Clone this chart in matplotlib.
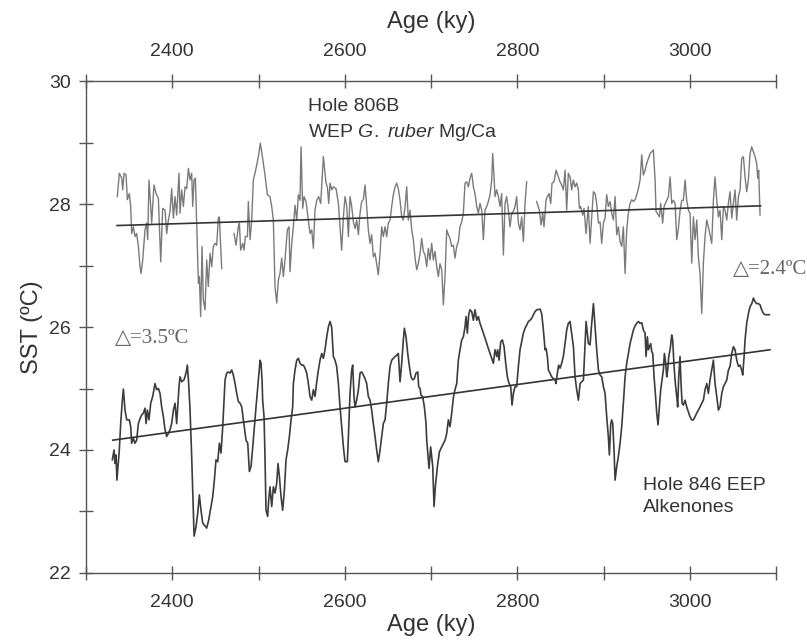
import matplotlib
matplotlib.use("Agg")
import matplotlib.pyplot as plt
import numpy as np
from matplotlib.ticker import FixedLocator

plt.rcParams['font.family'] = ['Liberation Sans', 'DejaVu Sans']
plt.rcParams['mathtext.fontset'] = 'custom'
plt.rcParams['mathtext.rm'] = 'Liberation Sans'
plt.rcParams['mathtext.it'] = 'Liberation Sans:italic'

# Hole 806B, WEP G. ruber Mg/Ca (nan = gap in record)
up_age = [2336.3, 2338.6, 2341.4, 2342.5, 2344.1, 2346.4, 2347.9, 2350.2, 2351.8, 2352.9,
          2354.9, 2356.8, 2358.7, 2360.7, 2362.6, 2363.8, 2365.7, 2368.4, 2370.3, 2371.5,
          2373.0, 2375.0, 2376.1, 2378.8, 2381.2, 2383.9, 2386.6, 2388.9, 2391.6, 2393.5,
          2395.5, 2397.4, 2399.3, 2401.3, 2403.2, 2405.1, 2407.8, 2409.0, 2410.9, 2412.9,
          2414.8, 2416.7, 2418.7, 2420.6, 2422.5, 2423.7, 2425.2, 2426.8, 2428.3, 2430.3,
          2431.4, 2432.9, 2434.5, 2436.0, 2438.0, 2439.9, 2441.8, 2443.8, 2445.7, 2447.6,
          2449.6, 2451.5, 2453.4, 2454.6, 2457.3, 2464.0,
          2471.6, 2473.9, 2476.6, 2477.8, 2479.3, 2481.7, 2483.2, 2484.7, 2487.1, 2488.2,
          2490.2, 2492.1, 2494.0, 2496.7, 2499.8, 2502.1, 2504.8, 2507.5, 2510.3, 2513.3,
          2515.3, 2517.2, 2519.1, 2521.1, 2523.0, 2524.9, 2526.9, 2528.8, 2530.7, 2533.4,
          2535.4, 2536.5, 2538.5, 2540.4, 2542.3, 2544.3, 2546.2, 2548.1, 2549.3, 2551.2,
          2552.8, 2555.1, 2557.8, 2559.7, 2561.7, 2563.6, 2565.5, 2567.5, 2569.8, 2572.1,
          2575.2, 2578.3, 2579.8, 2581.4, 2582.9, 2584.9, 2586.8, 2589.9, 2592.6,
          2594.5, 2596.4, 2598.4, 2600.3, 2602.2, 2604.2, 2606.1, 2608.0, 2610.0, 2611.9,
          2613.8, 2615.8, 2617.7, 2619.6, 2621.5, 2623.5, 2625.4, 2627.3, 2629.3, 2631.2,
          2633.1, 2635.1, 2637.0, 2638.9, 2640.9, 2642.8, 2644.7, 2646.7, 2648.6, 2650.5,
          2652.5, 2654.4, 2656.3, 2658.3, 2660.2, 2662.1, 2664.1, 2666.0, 2667.9, 2669.9,
          2671.8, 2673.7, 2675.7, 2677.6, 2679.5, 2681.5, 2683.4, 2685.3, 2687.3, 2689.2,
          2691.1, 2693.1, 2695.0, 2696.9, 2698.8, 2700.8, 2702.7, 2704.6, 2706.6, 2708.5,
          2710.4, 2712.4, 2714.3, 2716.2, 2718.2, 2720.1, 2722.0, 2724.0, 2725.9, 2727.8,
          2729.8, 2731.7, 2733.6, 2735.6, 2737.5, 2739.4, 2741.4, 2743.3, 2745.2, 2747.2,
          2749.1, 2751.0, 2753.0, 2754.9, 2756.8, 2758.8, 2760.7, 2762.6, 2764.6, 2766.5,
          2768.4, 2770.4, 2771.5, 2773.1, 2774.2, 2776.1, 2778.1, 2780.0, 2781.9, 2783.9,
          2785.8, 2787.7, 2789.7, 2791.6, 2793.5, 2795.5, 2797.4, 2799.3, 2801.3, 2803.2,
          2805.1, 2807.1, 2809.0, 2810.9, 2816.0,
          2822.5, 2825.6, 2827.6, 2829.5, 2831.0, 2833.4, 2834.9, 2836.8, 2838.8, 2840.3,
          2842.6, 2845.0, 2847.7, 2849.6, 2851.5, 2853.4, 2855.4, 2857.3, 2859.2, 2861.2,
          2863.1, 2865.0, 2867.0, 2868.9, 2870.8, 2872.0, 2873.5, 2875.9, 2877.4, 2879.7,
          2882.4, 2884.4, 2886.3, 2888.3, 2890.2, 2892.1, 2894.1, 2896.0, 2897.9, 2899.9,
          2901.8, 2903.7, 2905.6, 2907.6, 2909.5, 2911.4, 2913.4, 2915.3, 2917.2, 2919.2,
          2921.1, 2923.0, 2925.0, 2926.9, 2928.8, 2930.8, 2932.7, 2934.6, 2936.6, 2938.5,
          2940.4, 2942.4, 2944.3, 2946.2, 2948.2, 2950.1, 2954.0, 2957.8, 2959.8, 2960.9,
          2962.5, 2964.8, 2966.3, 2968.6, 2970.2, 2973.3, 2975.2, 2977.2, 2979.1, 2981.0,
          2983.0, 2984.9, 2986.8, 2988.8, 2990.7, 2992.6, 2994.6, 2996.5, 2998.4, 3000.3,
          3002.3, 3004.2, 3006.1, 3008.1, 3010.0, 3011.9, 3013.9, 3015.8, 3017.7, 3019.7,
          3021.6, 3023.5, 3025.5, 3027.4, 3029.3, 3031.3, 3033.2, 3035.1, 3037.1, 3039.0,
          3040.9, 3042.9, 3044.8, 3046.7, 3048.7, 3050.6, 3052.5, 3054.4, 3056.4, 3058.3,
          3060.2, 3062.2, 3064.1, 3066.0, 3068.0, 3069.9, 3071.8, 3073.8, 3075.7, 3077.6,
          3078.8, 3079.9, 3081.5]
up_sst = [28.12, 28.50, 28.42, 28.23, 28.50, 28.47, 28.07, 28.17, 27.96, 27.52,
          27.63, 27.47, 27.52, 27.31, 26.98, 26.87, 27.09, 27.58, 27.69, 27.42,
          28.39, 27.96, 27.69, 28.31, 28.17, 28.09, 27.06, 27.93, 27.90, 27.52,
          27.74, 27.88, 28.25, 27.77, 28.12, 27.82, 28.50, 27.85, 28.23, 27.96,
          28.28, 28.25, 28.58, 28.39, 28.50, 27.96, 28.39, 28.42, 27.69, 26.71,
          26.82, 26.17, 27.31, 26.44, 26.28, 27.09, 26.66, 27.20, 26.98, 27.31,
          27.36, 27.33, 27.77, 27.79, 26.95, np.nan,
          27.52, 27.33, 27.63, 27.69, 27.25, 27.36, 27.25, 27.47, 27.47, 28.04,
          27.42, 27.74, 28.39, 28.55, 28.77, 28.99, 28.74, 28.47, 28.15, 28.12,
          27.96, 27.74, 26.66, 26.39, 26.76, 26.87, 27.12, 26.82, 27.09, 27.58,
          27.63, 26.90, 27.36, 27.63, 27.98, 27.74, 28.15, 28.06, 28.93, 27.93,
          28.12, 28.04, 27.74, 27.52, 27.58, 27.28, 27.90, 28.06, 28.12, 28.01,
          28.77, 28.34, 28.28, 28.01, 28.34, 28.23, 28.28, 28.25, 28.01,
          27.63, 27.25, 27.79, 28.12, 27.98, 27.47, 28.12, 27.96, 27.71, 27.60,
          27.74, 27.50, 27.85, 28.04, 28.07, 28.31, 27.96, 27.58, 27.36, 27.50,
          27.14, 27.20, 27.03, 26.85, 27.20, 27.63, 27.47, 27.63, 27.47, 27.69,
          27.74, 27.96, 28.15, 28.28, 28.34, 28.25, 28.06, 27.79, 27.74, 27.96,
          28.28, 27.74, 27.90, 27.58, 27.42, 27.12, 26.93, 27.03, 27.20, 27.44,
          27.23, 27.17, 26.98, 27.28, 27.09, 27.36, 27.09, 27.23, 26.98, 26.82,
          27.03, 26.93, 26.36, 26.82, 27.58, 27.50, 27.44, 27.31, 27.33, 27.12,
          27.31, 27.39, 27.63, 27.71, 27.85, 28.34, 28.36, 28.28, 28.42, 28.50,
          28.28, 28.17, 27.96, 27.85, 28.01, 27.90, 27.42, 27.90, 27.96, 28.04,
          28.15, 28.39, 28.82, 28.44, 28.12, 28.23, 28.12, 27.96, 28.17, 27.17,
          28.01, 28.12, 27.90, 27.63, 27.85, 27.88, 27.96, 28.12, 27.69, 27.58,
          27.79, 27.39, 28.01, 28.36, np.nan,
          28.04, 27.90, 27.66, 27.85, 27.63, 28.07, 28.12, 28.17, 28.01, 28.34,
          28.36, 28.55, 28.44, 28.36, 28.31, 28.23, 28.55, 27.90, 28.50, 28.44,
          28.23, 28.39, 28.28, 28.34, 28.23, 27.93, 27.96, 27.82, 27.93, 27.52,
          27.96, 27.36, 27.79, 28.20, 28.17, 28.01, 27.69, 27.71, 27.36, 27.69,
          27.77, 28.15, 27.96, 28.04, 27.85, 27.74, 28.12, 27.50, 27.63, 27.39,
          27.31, 27.63, 26.87, 27.58, 27.85, 28.01, 28.07, 28.04, 28.07, 28.15,
          28.25, 28.39, 28.80, 28.47, 28.55, 28.66, 28.82, 28.88, 28.39, 27.88,
          27.85, 27.79, 28.01, 27.69, 27.96, 28.06, 28.12, 28.44, 28.01, 28.06,
          28.01, 27.42, 27.60, 27.90, 28.06, 28.06, 28.39, 28.06, 27.90, 27.85,
          27.04, 27.79, 27.42, 27.74, 27.14, 26.87, 26.22, 27.04, 27.47, 27.74,
          27.63, 27.50, 27.36, 28.06, 28.44, 28.06, 27.79, 27.90, 27.42, 27.96,
          27.90, 27.74, 28.01, 28.20, 27.77, 28.01, 28.23, 27.74, 28.12, 28.23,
          28.74, 28.77, 28.44, 28.20, 28.39, 28.82, 28.93, 28.85, 28.77, 28.66,
          28.42, 28.55, 27.82]

# Hole 846, EEP alkenones
lo_age = [2330.5, 2332.5, 2333.6, 2334.8, 2335.8, 2338.6, 2340.2, 2342.1, 2343.3, 2345.2,
          2347.2, 2350.2, 2351.8, 2352.9, 2354.9, 2356.8, 2358.7, 2360.7, 2362.6, 2364.5,
          2366.5, 2368.4, 2369.6, 2371.1, 2373.0, 2375.0, 2377.3, 2380.0, 2381.9, 2383.9,
          2385.8, 2387.7, 2389.7, 2391.6, 2393.5, 2395.5, 2397.4, 2399.3, 2401.3, 2403.2,
          2405.1, 2406.3, 2407.8, 2409.0, 2410.9, 2413.6, 2415.9, 2417.5, 2419.0, 2420.6,
          2422.5, 2425.3, 2427.5, 2429.5, 2431.4, 2433.3, 2435.3, 2437.2, 2439.9, 2442.2,
          2444.9, 2446.9, 2448.8, 2450.7, 2452.7, 2454.6, 2456.5, 2458.5, 2459.6, 2461.2,
          2463.1, 2465.0, 2467.0, 2468.9, 2470.8, 2472.8, 2474.7, 2476.6, 2478.6, 2480.5,
          2482.4, 2485.5, 2487.5, 2489.4, 2491.3, 2493.3, 2495.2, 2497.1, 2499.8, 2501.8,
          2502.9, 2504.1, 2504.8, 2506.4, 2507.5, 2508.7, 2510.6, 2511.8, 2513.3, 2515.3,
          2517.2, 2519.1, 2521.1, 2522.6, 2524.2, 2526.1, 2528.0, 2530.0, 2531.9, 2533.8,
          2535.8, 2537.7, 2539.6, 2540.4, 2542.3, 2544.3, 2546.2, 2548.1, 2550.1, 2552.0,
          2553.9, 2555.9, 2557.8, 2559.7, 2561.7, 2563.6, 2565.5, 2567.5, 2569.4, 2571.3,
          2573.3, 2575.2, 2577.1, 2579.1, 2581.0, 2582.9, 2584.8, 2586.8, 2588.7, 2590.6,
          2592.6, 2594.5, 2596.4, 2598.4, 2600.3, 2603.0, 2604.2, 2606.1, 2608.0, 2609.2,
          2610.7, 2611.9, 2613.8, 2615.8, 2617.7, 2619.6, 2621.5, 2623.5, 2625.4, 2627.3,
          2629.3, 2631.2, 2633.1, 2635.1, 2637.0, 2638.9, 2640.9, 2642.8, 2644.7, 2646.7,
          2648.6, 2650.5, 2652.5, 2654.4, 2656.3, 2658.3, 2660.2, 2662.1, 2664.1, 2666.0,
          2667.9, 2669.1, 2671.0, 2673.0, 2674.9, 2676.8, 2678.8, 2680.7, 2682.6, 2684.6,
          2685.7, 2687.3, 2688.4, 2690.3, 2692.3, 2694.2, 2695.0, 2697.7, 2699.6, 2702.0,
          2703.5, 2705.0, 2707.4, 2709.7, 2712.4, 2716.3, 2718.2, 2720.1, 2722.0, 2724.0,
          2725.9, 2727.8, 2729.8, 2731.7, 2733.6, 2735.6, 2737.5, 2739.4, 2740.6, 2742.1,
          2743.7, 2745.2, 2747.2, 2749.1, 2751.0, 2753.0, 2754.9, 2756.8, 2758.8, 2760.7,
          2762.6, 2764.6, 2766.5, 2768.4, 2770.4, 2772.3, 2774.2, 2776.2, 2777.3, 2778.9,
          2780.8, 2782.7, 2784.7, 2786.6, 2788.5, 2790.5, 2792.4, 2793.9, 2795.5, 2797.4,
          2799.3, 2801.3, 2803.2, 2805.1, 2807.1, 2809.0, 2810.9, 2812.9, 2814.8, 2816.7,
          2818.7, 2820.6, 2822.5, 2826.4, 2828.3, 2830.3, 2832.2, 2833.4, 2834.9, 2836.1,
          2838.0, 2839.9, 2841.9, 2843.8, 2844.9, 2846.5, 2848.0, 2849.6, 2851.5, 2853.4,
          2855.4, 2857.3, 2859.2, 2861.2, 2865.1, 2867.0, 2868.9, 2870.9, 2872.8, 2874.7,
          2876.7, 2879.8, 2882.5, 2884.4, 2886.3, 2888.3, 2890.2, 2892.1, 2894.1, 2896.0,
          2897.9, 2899.9, 2901.8, 2903.7, 2905.6, 2906.8, 2908.4, 2909.5, 2910.7, 2912.2,
          2913.4, 2915.3, 2917.2, 2919.2, 2921.1, 2923.0, 2925.0, 2926.9, 2928.8, 2930.8,
          2932.7, 2934.6, 2936.6, 2938.5, 2940.4, 2942.4, 2944.3, 2946.2, 2948.2, 2949.3,
          2950.9, 2952.0, 2953.2, 2954.7, 2955.9, 2957.1, 2958.6, 2960.1, 2961.7, 2963.2,
          2964.8, 2966.3, 2967.9, 2969.4, 2970.6, 2972.1, 2973.3, 2974.4, 2975.6, 2977.2,
          2979.1, 2980.2, 2981.8, 2983.3, 2984.9, 2986.0, 2987.2, 2988.7, 2989.9, 2991.1,
          2992.6, 2994.5, 2996.5, 2998.4, 3000.3, 3002.3, 3004.2, 3006.1, 3008.1, 3010.0,
          3011.9, 3013.9, 3015.8, 3017.7, 3019.7, 3021.6, 3023.5, 3025.5, 3027.4, 3029.3,
          3031.3, 3033.2, 3035.1, 3037.1, 3039.0, 3040.9, 3042.9, 3044.8, 3046.7, 3048.7,
          3050.6, 3052.5, 3054.5, 3056.4, 3058.3, 3060.2, 3061.4, 3063.0, 3064.1, 3066.0,
          3068.0, 3069.9, 3071.9, 3073.8, 3075.7, 3077.6, 3079.6, 3081.5, 3083.4, 3085.4,
          3087.3, 3092.3]
lo_sst = [23.84, 24.00, 23.78, 23.92, 23.51, 24.00, 24.43, 24.81, 24.99, 24.65,
          24.49, 24.49, 24.38, 24.11, 24.19, 24.11, 24.16, 24.43, 24.51, 24.57,
          24.60, 24.68, 24.43, 24.65, 24.49, 24.76, 24.87, 25.08, 24.98, 25.00,
          24.92, 24.70, 24.54, 24.33, 24.22, 24.27, 24.33, 24.43, 24.65, 24.76,
          24.43, 24.70, 25.03, 25.19, 25.11, 25.14, 25.25, 25.38, 25.08, 24.65,
          23.89, 22.60, 22.75, 22.97, 23.27, 23.02, 22.81, 22.78, 22.73, 22.86,
          23.08, 23.24, 23.51, 23.84, 23.81, 24.11, 23.95, 24.38, 24.70, 25.14,
          25.25, 25.27, 25.25, 25.30, 25.22, 25.08, 24.92, 24.79, 24.76, 24.70,
          24.49, 24.16, 24.11, 23.65, 23.73, 24.05, 24.38, 24.70, 25.14, 25.46,
          25.41, 25.14, 24.81, 24.54, 23.89, 23.02, 22.92, 23.19, 23.40, 23.08,
          23.40, 23.30, 23.46, 23.78, 23.57, 23.24, 23.02, 23.35, 23.84, 24.00,
          24.22, 24.49, 24.70, 25.08, 25.30, 25.46, 25.49, 25.41, 25.38, 25.38,
          25.33, 25.25, 25.08, 24.87, 24.81, 24.98, 24.87, 25.11, 25.30, 25.46,
          25.57, 25.49, 25.63, 25.84, 26.00, 26.09, 26.00, 25.52, 25.46, 25.36,
          25.08, 24.70, 24.38, 24.05, 23.81, 23.81, 24.22, 24.92, 25.30, 25.38,
          24.87, 24.70, 24.81, 24.98, 25.25, 25.27, 25.22, 25.16, 25.08, 24.87,
          24.81, 24.65, 24.43, 24.22, 24.00, 23.81, 24.00, 24.22, 24.43, 24.49,
          24.76, 25.08, 25.36, 25.46, 25.49, 25.52, 25.54, 25.57, 25.11, 25.41,
          25.79, 25.98, 25.84, 25.57, 25.36, 25.19, 25.14, 25.16, 25.25, 25.27,
          25.03, 25.00, 24.89, 24.87, 24.70, 24.43, 24.16, 23.70, 24.05, 23.73,
          23.08, 23.40, 23.73, 23.97, 24.05, 24.16, 24.27, 24.49, 24.38, 24.60,
          24.85, 24.98, 25.08, 25.46, 25.63, 25.79, 25.84, 26.00, 26.17, 25.90,
          26.20, 26.28, 26.25, 26.11, 26.28, 26.11, 26.17, 26.06, 25.98, 25.90,
          25.82, 25.73, 25.65, 25.57, 25.49, 25.41, 25.63, 25.52, 25.63, 25.46,
          25.76, 25.79, 25.68, 25.41, 25.19, 25.08, 25.03, 24.73, 24.92, 25.03,
          25.03, 25.36, 25.63, 25.76, 25.90, 25.98, 26.03, 26.09, 26.11, 26.14,
          26.20, 26.25, 26.28, 26.29, 26.22, 25.95, 25.63, 25.65, 25.52, 25.30,
          25.25, 25.19, 25.16, 25.14, 25.08, 25.25, 25.38, 25.33, 25.41, 25.52,
          25.73, 25.95, 26.06, 26.09, 25.68, 25.19, 24.98, 24.81, 25.08, 25.11,
          25.14, 26.09, 25.73, 25.71, 26.06, 26.38, 26.00, 25.63, 25.30, 25.22,
          25.19, 25.03, 24.92, 24.54, 24.22, 23.92, 24.43, 24.49, 24.43, 24.00,
          23.51, 23.73, 23.89, 24.11, 24.38, 24.76, 25.19, 25.41, 25.57, 25.73,
          25.84, 25.95, 26.02, 26.06, 26.09, 26.06, 26.07, 25.95, 25.90, 25.52,
          25.84, 25.63, 25.68, 25.73, 25.60, 25.57, 25.19, 24.92, 24.60, 24.41,
          24.70, 24.98, 25.14, 25.30, 25.57, 25.41, 25.19, 25.30, 25.52, 25.63,
          25.87, 25.79, 25.36, 25.08, 24.87, 24.70, 25.19, 25.52, 25.08, 24.76,
          24.73, 24.81, 24.70, 24.62, 24.54, 24.49, 24.49, 24.54, 24.60, 24.65,
          24.70, 24.76, 24.81, 24.98, 25.08, 24.92, 25.14, 25.30, 25.46, 25.08,
          24.87, 24.65, 24.70, 24.92, 25.03, 25.08, 25.14, 25.30, 25.36, 25.57,
          25.68, 25.63, 25.46, 25.36, 25.38, 25.30, 25.22, 25.52, 25.79, 26.06,
          26.22, 26.33, 26.38, 26.47, 26.41, 26.38, 26.38, 26.36, 26.28, 26.22,
          26.20, 26.20]

# linear trends
up_trend_age = [2336, 3082]
up_trend_sst = [27.65, 27.97]
lo_trend_age = [2331, 3093]
lo_trend_sst = [24.16, 25.63]

fig = plt.figure(figsize=(8.07, 6.41), dpi=100)
ax = fig.add_axes([0.1066, 0.1061, 0.855, 0.7675])

ax.plot(up_age, up_sst, color='#7a7a7a', lw=1.0)
ax.plot(lo_age, lo_sst, color='#3c3c3c', lw=1.2)
ax.plot(up_trend_age, up_trend_sst, color='#333333', lw=1.2)
ax.plot(lo_trend_age, lo_trend_sst, color='#333333', lw=1.2)

ax.set_xlim(2300, 3100)
ax.set_ylim(22, 30)
ax.spines['right'].set_visible(False)
for s in ['left', 'bottom', 'top']:
    ax.spines[s].set_color('#555555')
    ax.spines[s].set_linewidth(1.0)

xmaj = [2400, 2600, 2800, 3000]
xmin = [2300, 2500, 2700, 2900, 3100]
ax.xaxis.set_major_locator(FixedLocator(xmaj))
ax.xaxis.set_minor_locator(FixedLocator(xmin))
ax.yaxis.set_major_locator(FixedLocator([22, 24, 26, 28, 30]))
ax.yaxis.set_minor_locator(FixedLocator([23, 25, 27, 29]))
ax.tick_params(which='both', direction='inout', length=10, width=1.0,
               color='#555555', labelcolor='#333333', labelsize=14)
ax.tick_params(axis='x', pad=10)
ax.tick_params(axis='y', pad=6)

sec = ax.secondary_xaxis('top')
sec.xaxis.set_major_locator(FixedLocator(xmaj))
sec.xaxis.set_minor_locator(FixedLocator(xmin))
sec.tick_params(which='both', direction='inout', length=10, width=1.0,
                color='#555555', labelcolor='#333333', labelsize=14, pad=10)
sec.spines['top'].set_visible(False)
sec.set_xlabel('Age (ky)', fontsize=17, color='#333333', labelpad=11)

ax.set_xlabel('Age (ky)', fontsize=17, color='#333333', labelpad=2)
ax.set_ylabel('SST (ºC)', fontsize=17, color='#333333', labelpad=4)

ax.text(2557, 29.58, 'Hole 806B', fontsize=14, color='#333333', va='center')
ax.text(2557, 29.17, r'WEP $\it{G.\ ruber}$ Mg/Ca', fontsize=14, color='#333333', va='center')
ax.text(2946, 23.43, 'Hole 846 EEP', fontsize=14, color='#333333', va='center')
ax.text(2946, 23.06, 'Alkenones', fontsize=14, color='#333333', va='center')

serif = ['Liberation Serif', 'DejaVu Serif']
ax.text(2334, 25.82, '△=3.5ºC', fontsize=15, family=serif, color='#666666', va='center')
ax.text(3050, 26.93, '△=2.4ºC', fontsize=15, family=serif, color='#666666', va='center',
        clip_on=False)

fig.savefig('out.png', dpi=100)
